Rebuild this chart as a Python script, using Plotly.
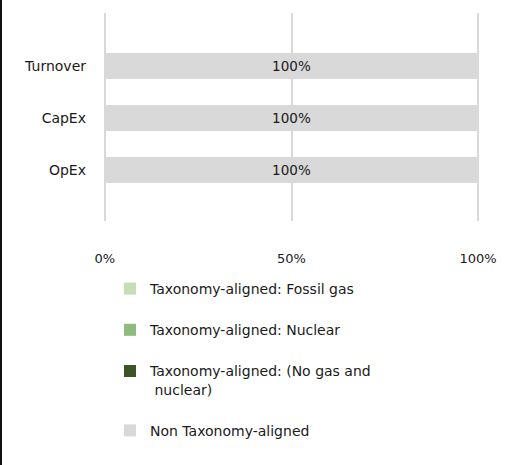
import plotly.graph_objects as go

categories = ["Turnover", "CapEx", "OpEx"]
series_names = [
    "Taxonomy-aligned: Fossil gas",
    "Taxonomy-aligned: Nuclear",
    "Taxonomy-aligned: (No gas and<br> nuclear)",
    "Non Taxonomy-aligned",
]
fossil_gas = [0, 0, 0]
nuclear = [0, 0, 0]
no_gas_nuclear = [0, 0, 0]
non_aligned = [100, 100, 100]
x_ticks = [0, 50, 100]
x_tick_labels = ["0%", "50%", "100%"]

colors = ["#c5dfb5", "#8fbb7c", "#3b5527", "#d9d9d9"]
values = [fossil_gas, nuclear, no_gas_nuclear, non_aligned]

FONT = "DejaVu Sans"
TXT = "#1a1a1a"

fig = go.Figure()
for i, (name, vals, col) in enumerate(zip(series_names, values, colors)):
    show_text = i == 3
    fig.add_trace(go.Bar(
        y=categories, x=vals, name=name, orientation="h",
        marker=dict(color=col, line=dict(width=0)),
        width=0.51,
        legendgroup=f"g{i}",
        text=[f"{v}%" for v in vals] if show_text else None,
        textposition="inside" if show_text else None,
        insidetextanchor="middle",
        textfont=dict(family=FONT, size=13.5, color=TXT),
        hoverinfo="skip",
    ))

L, R, T, B = 103, 30, 13, 244
PW, PH = 510 - L - R, 465 - T - B

fig.update_layout(
    width=510, height=465,
    barmode="stack",
    margin=dict(l=L, r=R, t=T, b=B, autoexpand=False),
    paper_bgcolor="white", plot_bgcolor="white",
    font=dict(family=FONT, size=13, color=TXT),
    showlegend=True,
    legend=dict(
        x=(110 - L) / PW, y=-0.25, xanchor="left", yanchor="top",
        orientation="v", traceorder="grouped", tracegroupgap=20,
        valign="top",
        font=dict(family=FONT, size=14, color=TXT),
        bgcolor="rgba(0,0,0,0)",
    ),
    xaxis=dict(
        range=[-0.5, 100.5], tickvals=x_ticks, ticktext=x_tick_labels,
        showgrid=True, gridcolor="#d9d9d9", gridwidth=1.5,
        zeroline=False, showline=False, ticks="",
        ticklabelstandoff=28,
        tickfont=dict(family=FONT, size=13, color=TXT),
        fixedrange=True,
    ),
    yaxis=dict(
        categoryorder="array", categoryarray=["OpEx", "CapEx", "Turnover"],
        range=[-0.98, 3.02],
        showgrid=False, zeroline=False, showline=False, ticks="",
        ticklabelstandoff=16,
        tickfont=dict(family=FONT, size=14, color=TXT),
        fixedrange=True,
    ),
    shapes=[dict(
        type="line", xref="paper", yref="paper",
        x0=(1 - L) / PW, x1=(1 - L) / PW, y0=-B / PH, y1=1 + T / PH,
        line=dict(color="#111111", width=2),
    )],
)

fig.write_html(
    "out.html",
    config={"displayModeBar": False},
    post_script="document.body.style.margin='0';document.body.style.padding='0';",
)
